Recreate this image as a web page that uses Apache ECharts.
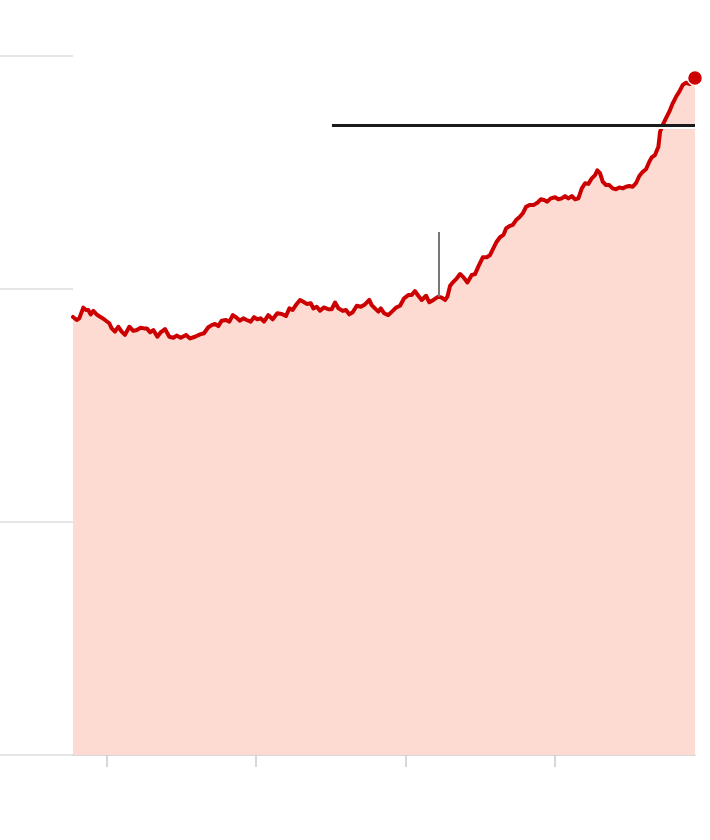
<!DOCTYPE html>
<html><head><meta charset="utf-8">
<script src="https://cdn.jsdelivr.net/npm/echarts@6/dist/echarts.min.js"></script>
<style>html,body{margin:0;padding:0;background:#fff}#c{width:710px;height:840px}</style>
</head><body><div id="c"></div>
<script>
const years = [
2019.773,2019.798,2019.815,2019.842,2019.860,2019.875,2019.892,2019.909,2019.922,2019.936,
2019.965,2019.987,2019.999,2020.016,2020.032,2020.054,2020.076,2020.099,2020.121,2020.150,
2020.177,2020.200,2020.226,2020.249,2020.267,2020.289,2020.311,2020.338,2020.360,2020.389,
2020.418,2020.445,2020.467,2020.494,2020.530,2020.557,2020.590,2020.624,2020.650,2020.679,
2020.702,2020.724,2020.746,2020.769,2020.798,2020.820,2020.843,2020.865,2020.891,2020.913,
2020.936,2020.963,2020.985,2021.007,2021.030,2021.052,2021.081,2021.110,2021.141,2021.171,
2021.199,2021.222,2021.244,2021.271,2021.293,2021.315,2021.338,2021.365,2021.382,2021.405,
2021.427,2021.454,2021.483,2021.505,2021.528,2021.550,2021.579,2021.601,2021.623,2021.646,
2021.673,2021.700,2021.728,2021.757,2021.773,2021.795,2021.818,2021.834,2021.856,2021.884,
2021.914,2021.936,2021.963,2021.990,2022.018,2022.041,2022.063,2022.085,2022.108,2022.137,
2022.159,2022.186,2022.219,2022.242,2022.264,2022.280,2022.298,2022.320,2022.343,2022.365,
2022.387,2022.414,2022.443,2022.465,2022.487,2022.517,2022.543,2022.566,2022.588,2022.610,
2022.632,2022.655,2022.673,2022.695,2022.718,2022.740,2022.762,2022.785,2022.807,2022.829,
2022.856,2022.882,2022.905,2022.927,2022.949,2022.972,2023.001,2023.023,2023.046,2023.068,
2023.090,2023.113,2023.135,2023.157,2023.180,2023.202,2023.224,2023.247,2023.269,2023.284,
2023.302,2023.320,2023.342,2023.364,2023.387,2023.409,2023.431,2023.454,2023.476,2023.498,
2023.521,2023.543,2023.565,2023.588,2023.610,2023.632,2023.648,2023.670,2023.693,2023.704,
2023.722,2023.744,2023.766,2023.789,2023.811,2023.833,2023.856,2023.878,2023.905,2023.938
];
const values = [
188.0,186.7,187.4,192.0,191.0,191.0,189.1,190.6,191.0,188.8,
187.7,186.7,187.4,185.3,183.1,181.7,183.8,181.7,180.3,183.8,
182.0,182.4,183.4,183.1,183.1,181.4,182.4,179.5,181.4,182.8,
179.5,179.1,180.0,179.1,180.3,178.8,179.5,180.5,181.0,183.6,
184.5,185.0,184.1,186.4,186.7,186.0,188.8,187.9,186.4,187.4,
186.7,186.0,187.9,187.0,187.4,186.0,188.8,187.0,189.6,189.3,
188.4,191.7,191.0,193.6,195.3,194.5,193.6,193.9,191.7,192.4,
190.7,192.1,191.3,191.3,194.2,191.7,190.6,191.0,189.1,190.0,
192.8,192.4,193.4,195.3,193.1,191.7,190.3,191.7,189.6,188.8,
190.6,192.0,192.8,196.0,197.4,197.4,199.1,197.1,195.3,197.1,
194.3,195.3,196.7,196.3,195.3,196.7,201.4,203.1,204.6,206.4,
205.1,202.8,206.0,206.4,209.6,213.6,213.6,214.6,217.5,220.3,
222.2,223.2,226.0,227.0,227.5,229.6,230.8,232.5,235.3,236.0,
236.0,237.0,238.5,238.2,237.5,238.9,239.4,238.5,238.9,239.9,
238.9,239.9,238.5,238.9,243.2,245.4,245.1,247.5,248.9,250.9,
249.7,246.1,244.6,244.6,243.2,242.8,243.6,243.2,243.9,244.2,
243.9,245.4,248.5,250.3,251.4,254.6,256.5,257.5,261.1,267.5,
270.4,273.3,276.1,279.7,282.5,284.7,287.6,288.5,288.0,290.6
];
const xTicks = [2020, 2021, 2022, 2023];
const yTicks = [0, 100, 200, 300];
const refLevel = 270.4;      // horizontal reference line
const refStart = 2021.507;
const markerX = 2022.219;    // vertical annotation stick
const markerTop = 224.5;

const xMin = years[0], xMax = years[years.length - 1];
const seriesData = years.map((y, i) => [y, values[i]]);
const markerIdx = years.indexOf(markerX);
const lastPoint = seriesData[seriesData.length - 1];

const chart = echarts.init(document.getElementById('c'), null, {renderer: 'canvas'});
chart.setOption({
  animation: false,
  backgroundColor: '#fff',
  grid: [
    {left: 73, right: 15, top: 56, bottom: 85},
    {left: 0, width: 73, top: 56, bottom: 85}
  ],
  xAxis: [
    {
      type: 'value', gridIndex: 0, min: xMin, max: xMax,
      axisLine: {show: true, lineStyle: {color: '#cccccc', width: 1.5}},
      axisTick: {show: true, customValues: xTicks, length: 12, lineStyle: {color: '#cccccc', width: 1.5}},
      axisLabel: {show: false, customValues: xTicks},
      splitLine: {show: false}
    },
    {
      type: 'value', gridIndex: 1, min: 0, max: 1, show: false
    }
  ],
  yAxis: [
    {
      type: 'value', gridIndex: 0, min: yTicks[0], max: yTicks[yTicks.length - 1], interval: 100,
      axisLine: {show: false}, axisTick: {show: false}, axisLabel: {show: false},
      splitLine: {show: false}
    },
    {
      type: 'value', gridIndex: 1, min: yTicks[0], max: yTicks[yTicks.length - 1], interval: 100,
      axisLine: {show: false}, axisTick: {show: false}, axisLabel: {show: false},
      splitLine: {show: true, lineStyle: {color: '#dddddd', width: 1.5}}
    }
  ],
  series: [
    {
      type: 'line', xAxisIndex: 0, yAxisIndex: 0,
      data: seriesData, showSymbol: false, symbol: 'none',
      lineStyle: {color: '#cc0000', width: 4, join: 'round', cap: 'round'},
      areaStyle: {color: '#fddbd3', opacity: 1},
      z: 3,
      markLine: {
        silent: true, symbol: ['none', 'none'], label: {show: false},
        data: [
          [{coord: [refStart, refLevel], lineStyle: {color: '#1a1a1a', width: 3, type: 'solid', shadowColor: '#ffffff', shadowOffsetY: 2, shadowBlur: 0}},
           {coord: [xMax, refLevel]}],
          [{coord: [markerX, markerTop], lineStyle: {color: '#777777', width: 2, type: 'solid'}},
           {coord: [markerX, values[markerIdx]]}]
        ]
      }
    },
    {
      type: 'scatter', xAxisIndex: 0, yAxisIndex: 0,
      data: [lastPoint], symbolSize: 15, clip: false,
      itemStyle: {color: '#cc0000', borderColor: '#ffffff', borderWidth: 1.5, opacity: 1},
      z: 5
    }
  ]
});
</script>
</body></html>
